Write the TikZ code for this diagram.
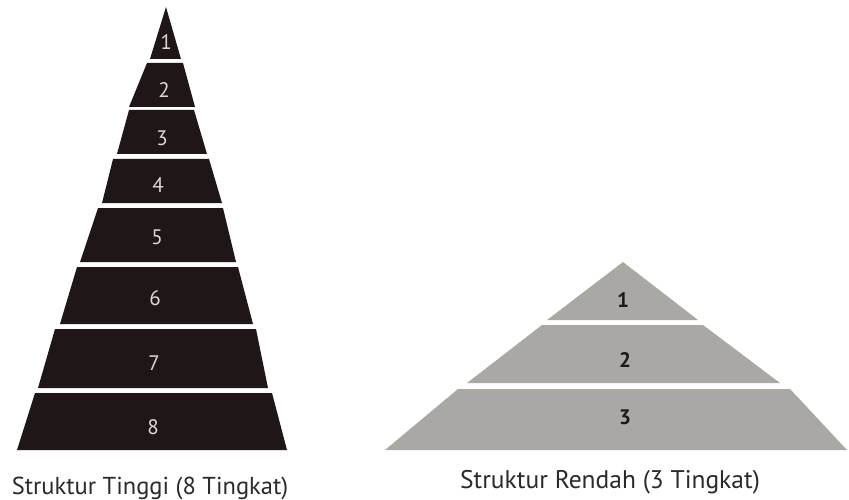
\documentclass[tikz,border=0pt]{standalone}
\usepackage{fontspec}
\setmainfont{PT Sans}
\definecolor{darkband}{HTML}{1F1717}
\definecolor{greyband}{HTML}{A9A8A4}
\definecolor{lightnum}{HTML}{DCD8D4}
\definecolor{darknum}{HTML}{1A1A1A}
\definecolor{captext}{HTML}{2A2A2A}
\begin{document}
\begin{tikzpicture}[x=1pt,y=-1pt,
  darkfill/.style={fill=darkband},
  greyfill/.style={fill=greyband},
  lightlabel/.style={text=lightnum,font=\fontsize{21}{21}\selectfont,inner sep=0pt},
  darklabel/.style={text=darknum,font=\bfseries\fontsize{21}{21}\selectfont,inner sep=0pt},
  caption/.style={text=captext,font=\fontsize{24.5}{24.5}\selectfont,inner sep=0pt,anchor=base}]
\useasboundingbox[fill=white] (0,0) rectangle (849,500);
% tall pyramid
\fill[darkfill] (166,7) -- (181,59) -- (150,59) -- cycle;
\fill[darkfill] (147,63) -- (183,63) -- (195,107) -- (129,107) -- cycle;
\fill[darkfill] (129,110) -- (194,110) -- (207,154) -- (117,154) -- cycle;
\fill[darkfill] (113,159) -- (209,159) -- (222,203) -- (102,203) -- cycle;
\fill[darkfill] (98,208) -- (223,208) -- (236,262) -- (80,262) -- cycle;
\fill[darkfill] (77,267) -- (238,267) -- (253,324) -- (60,324) -- cycle;
\fill[darkfill] (55,329) -- (256,329) -- (268,388) -- (38,388) -- cycle;
\fill[darkfill] (35,393) -- (272,393) -- (287,450) -- (17,450) -- cycle;
\node[lightlabel] (t1) at (166,42) {1};
\node[lightlabel] (t2) at (164,90) {2};
\node[lightlabel] (t3) at (162,138) {3};
\node[lightlabel] (t4) at (158,185) {4};
\node[lightlabel] (t5) at (157,237) {5};
\node[lightlabel] (t6) at (155,298) {6};
\node[lightlabel] (t7) at (154,363) {7};
\node[lightlabel] (t8) at (153,427) {8};
\node[caption] (ctall) at (150,494) {Struktur Tinggi (8 Tingkat)};
% low pyramid
\fill[greyfill] (623,262) -- (698,320) -- (547,320) -- cycle;
\fill[greyfill] (542,325) -- (703,325) -- (780,383) -- (467,383) -- cycle;
\fill[greyfill] (458,389) -- (790,389) -- (847,450) -- (385,450) -- cycle;
\node[darklabel] (r1) at (623,300) {1};
\node[darklabel] (r2) at (625,360) {2};
\node[darklabel] (r3) at (625,417) {3};
\node[caption,font=\fontsize{25.5}{25.5}\selectfont] (clow) at (610,488) {Struktur Rendah (3 Tingkat)};
\end{tikzpicture}
\end{document}
